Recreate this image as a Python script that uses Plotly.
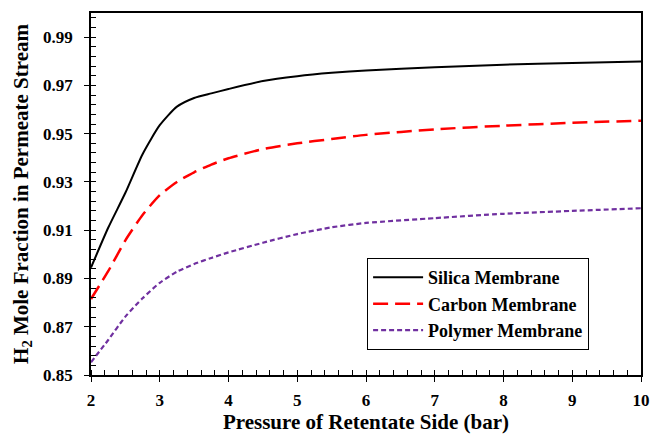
import plotly.graph_objects as go

pressure = [2, 2.25, 2.5, 2.75, 3, 3.25, 3.5, 3.75, 4, 4.5, 5, 5.5, 6, 7, 8, 9, 10]
silica = [0.8945, 0.9110, 0.9255, 0.9415, 0.9535, 0.9612, 0.9648, 0.9667, 0.9685,
          0.9718, 0.9738, 0.9752, 0.9762, 0.9775, 0.9786, 0.9793, 0.9799]
carbon = [0.8815, 0.8930, 0.9058, 0.9163, 0.9245, 0.9300, 0.9340, 0.9372, 0.9398,
          0.9436, 0.9460, 0.9478, 0.9495, 0.9518, 0.9533, 0.9545, 0.9554]
polymer = [0.8553, 0.8645, 0.8742, 0.8818, 0.8882, 0.8928, 0.8960, 0.8985, 0.9008,
           0.9048, 0.9084, 0.9112, 0.9130, 0.9150, 0.9168, 0.9180, 0.9191]

names = ["Silica Membrane", "Carbon Membrane", "Polymer Membrane"]
x_ticks = [2, 3, 4, 5, 6, 7, 8, 9, 10]
y_ticks = [0.85, 0.87, 0.89, 0.91, 0.93, 0.95, 0.97, 0.99]

FONT = "Liberation Serif"

fig = go.Figure()
styles = [
    dict(color="black", width=2, dash="solid"),
    dict(color="#ff0000", width=2.5, dash="15px,7px"),
    dict(color="#7030a0", width=2.2, dash="5px,3px"),
]
for i, (name, ys) in enumerate(zip(names, [silica, carbon, polymer])):
    fig.add_trace(go.Scatter(
        x=pressure, y=ys, mode="lines", name=name,
        line=dict(shape="spline", smoothing=0.6, **styles[i]),
        legendgroup=f"g{i}",
    ))

# invisible trace to drive overlay axes (inside major ticks)
fig.add_trace(go.Scatter(x=[None], y=[None], xaxis="x2", yaxis="y2",
                         showlegend=False, hoverinfo="skip"))

tickfont = dict(family=FONT, size=17, color="black", weight="bold")
titlefont = dict(family=FONT, size=21, color="black", weight="bold")
fig.update_layout(
    width=651, height=436,
    margin=dict(l=91, r=10, t=13, b=61),
    plot_bgcolor="white", paper_bgcolor="white",
    showlegend=True,
    legend=dict(
        x=0.502, y=0.323, xanchor="left", yanchor="top",
        bordercolor="black", borderwidth=1, bgcolor="white",
        font=dict(family=FONT, size=18, color="black", weight="bold"),
        tracegroupgap=0,
        itemwidth=50,
        entrywidth=218,
    ),
    xaxis=dict(
        range=[2, 10], tickmode="array", tickvals=x_ticks,
        ticktext=[str(v) for v in x_ticks], automargin=False,
        ticks="outside", ticklen=5, tickwidth=1.3, tickcolor="black",
        minor=dict(dtick=0.2, tick0=2, ticks="inside", ticklen=5, tickwidth=1, tickcolor="black"),
        showline=True, linecolor="black", linewidth=1.5, mirror=True,
        showgrid=False, zeroline=False, tickfont=tickfont, ticklabelstandoff=4,
        title=dict(text="Pressure of Retentate Side (bar)", font=titlefont, standoff=5),
    ),
    yaxis=dict(
        range=[0.85, 1.0], tickmode="array", tickvals=y_ticks,
        ticktext=[f"{v:.2f}" for v in y_ticks], automargin=False,
        ticks="outside", ticklen=5, tickwidth=1.3, tickcolor="black",
        minor=dict(dtick=0.004, tick0=0.85, ticks="inside", ticklen=5, tickwidth=1, tickcolor="black"),
        showline=True, linecolor="black", linewidth=1.5, mirror=True,
        showgrid=False, zeroline=False, tickfont=tickfont, ticklabelstandoff=8,
        title=dict(text="H<sub>2</sub> Mole Fraction in Permeate Stream", font=titlefont, standoff=9),
    ),
    xaxis2=dict(range=[2, 10], overlaying="x", anchor="y", side="bottom",
                tickmode="array", tickvals=x_ticks, showticklabels=False,
                ticks="inside", ticklen=5, tickwidth=1.3, tickcolor="black",
                showline=False, showgrid=False, zeroline=False),
    yaxis2=dict(range=[0.85, 1.0], overlaying="y", anchor="x", side="left",
                tickmode="array", tickvals=y_ticks, showticklabels=False,
                ticks="inside", ticklen=5, tickwidth=1.3, tickcolor="black",
                showline=False, showgrid=False, zeroline=False),
)

fig.write_html("out.html")
